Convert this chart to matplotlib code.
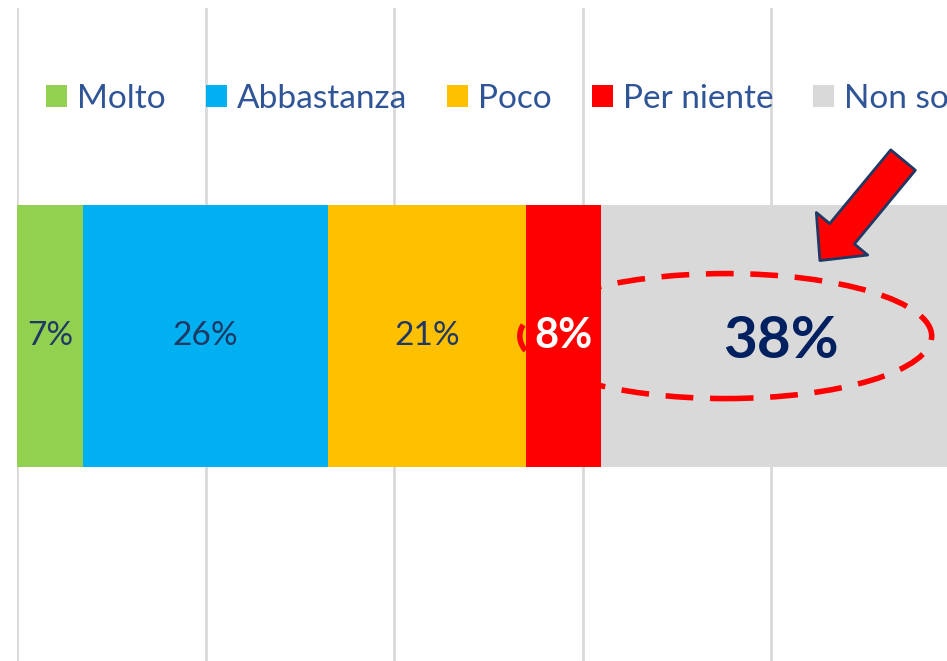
import matplotlib.pyplot as plt
from matplotlib.patches import Ellipse, FancyArrowPatch

# survey answers, one stacked bar
categories = ['Molto', 'Abbastanza', 'Poco', 'Per niente', 'Non so']
values = [7, 26, 21, 8, 38]
colors = ['#92D050', '#00B0F0', '#FFC000', '#FF0000', '#D9D9D9']
labels = ['7%', '26%', '21%', '8%', '38%']

plt.rcParams['font.family'] = ['Lato', 'DejaVu Sans']

fig = plt.figure(figsize=(9.47, 6.61), dpi=100)
# plot area runs past the right edge, as in the original crop
ax = fig.add_axes([17 / 947, 0, 942.5 / 947, 653 / 661])

left = 0
for cat, val, col in zip(categories, values, colors):
    ax.barh(0, val, left=left, height=1, color=col, label=cat, zorder=2)
    left += val

# data labels
left = 0
for i, (val, lab) in enumerate(zip(values, labels)):
    cx = left + val / 2
    if i == 3:
        ax.text(cx, 0, lab, ha='center', va='center', color='white',
                fontsize=30, fontweight='bold', zorder=5)
    elif i == 4:
        ax.text(cx, -0.02, lab, ha='center', va='center', color='#002060',
                fontsize=42, fontweight='bold', zorder=5)
    else:
        ax.text(cx, 0, lab, ha='center', va='center', color='#1F3864',
                fontsize=24, zorder=5)
    left += val

# dashed ellipse round the "Non so" share
ell = Ellipse((75.2, 0.0), 43.7, 0.477, fill=False, edgecolor='#FF0000',
              lw=4, linestyle=(0, (5, 3)), zorder=4)
ax.add_patch(ell)

# big arrow pointing at it
arr = FancyArrowPatch((94.2, 0.68), (85.0, 0.28),
                      arrowstyle='simple,head_length=25,head_width=48,tail_width=23',
                      mutation_scale=1, facecolor='#FF0000', edgecolor='#1F3864',
                      lw=2, zorder=6)
ax.add_patch(arr)

ax.set_xlim(0, 100)
ax.set_ylim(-1.240, 1.252)
ax.set_xticks([0, 20, 40, 60, 80, 100])
ax.grid(axis='x', color='#D9D9D9', lw=2, zorder=0)
ax.tick_params(left=False, bottom=False, labelleft=False, labelbottom=False)
for s in ax.spines.values():
    s.set_visible(False)

ax.legend(loc='center left', bbox_to_anchor=(0.031, 0.861), ncol=5,
          frameon=False, fontsize=24, labelcolor='#2F5597',
          handlelength=0.63, handleheight=0.63, handletextpad=0.3,
          columnspacing=1.2, borderpad=0, borderaxespad=0)

fig.savefig('out.png', dpi=100)
